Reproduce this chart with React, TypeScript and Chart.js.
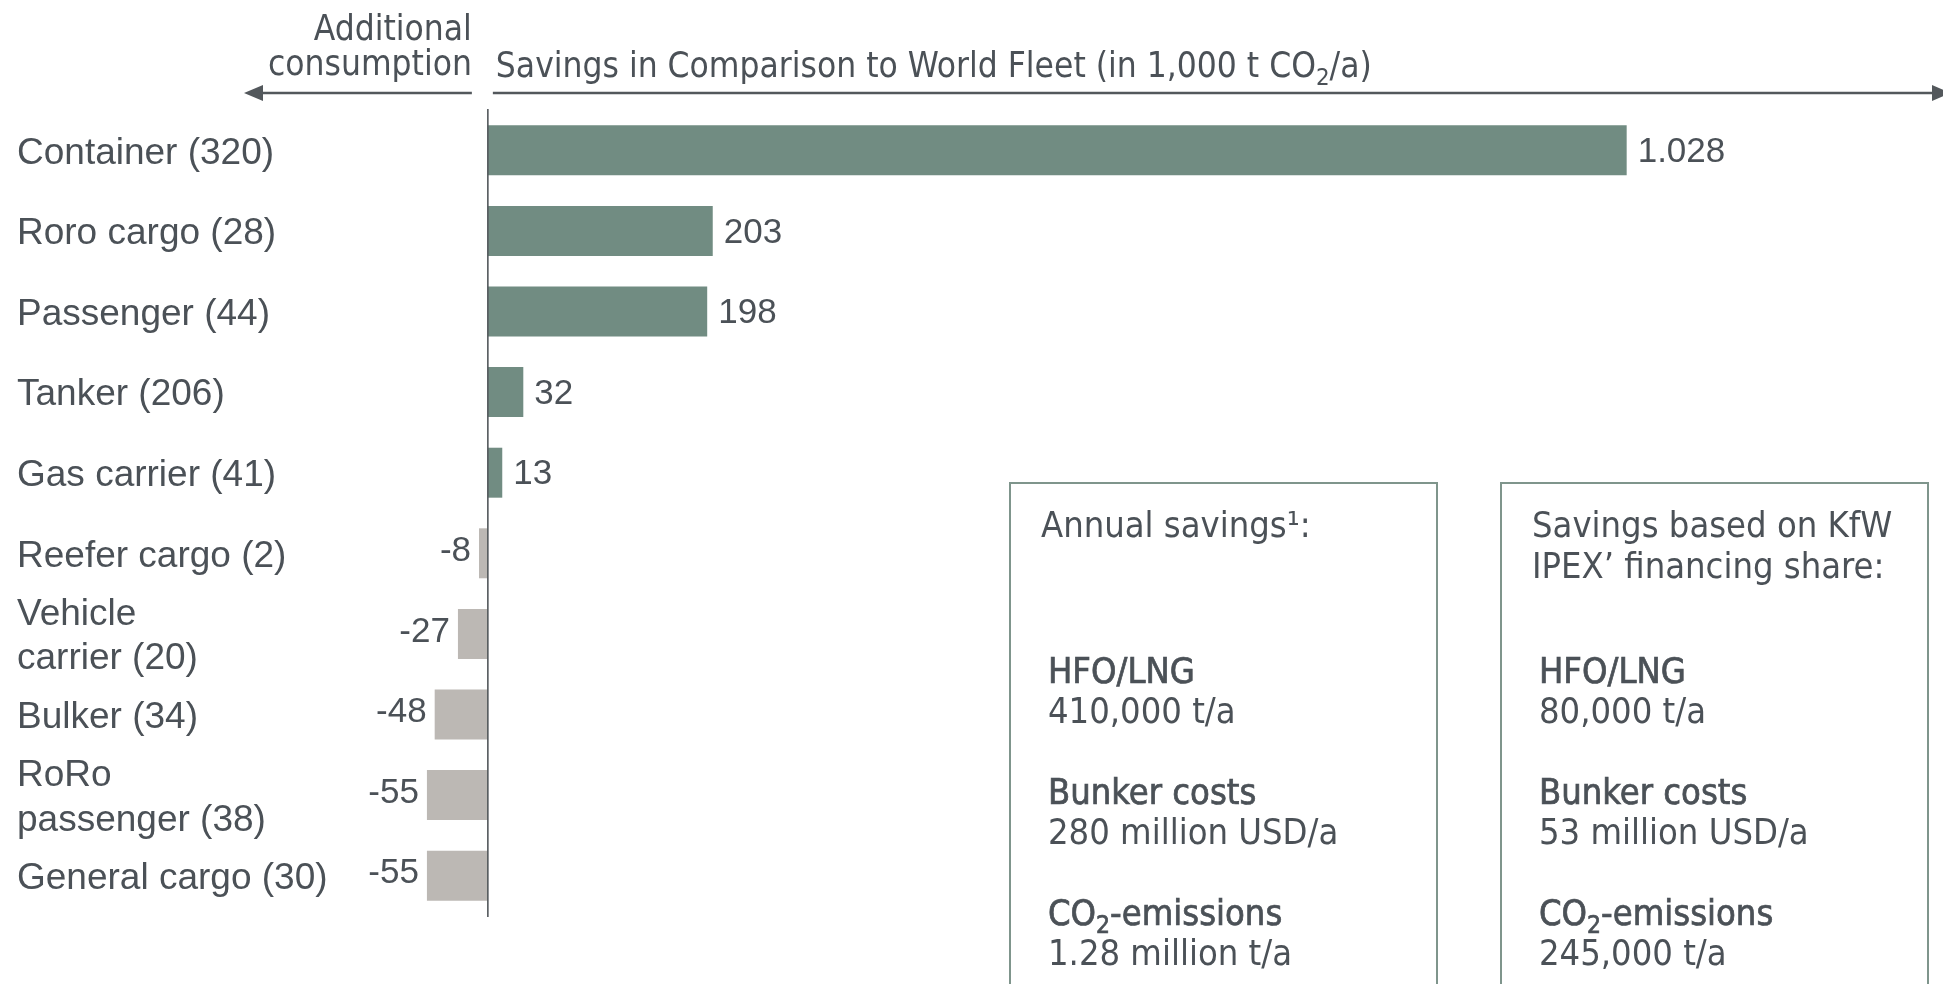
import React, { useEffect, useRef } from "react";
import { Chart, registerables } from "chart.js";

Chart.register(...registerables);

// Ship types (number of vessels) and CO2 savings vs. world fleet, in 1,000 t CO2/a
const categories: (string | string[])[] = [
  "Container (320)",
  "Roro cargo (28)",
  "Passenger (44)",
  "Tanker (206)",
  "Gas carrier (41)",
  "Reefer cargo (2)",
  ["Vehicle", "carrier (20)"],
  "Bulker (34)",
  ["RoRo", "passenger (38)"],
  "General cargo (30)",
];
const savings = [1028, 203, 198, 32, 13, -8, -27, -48, -55, -55];

const axisMin = -110;
const axisMax = 1300;

const headerLeft = ["Additional", "consumption"];
const headerRight = "Savings in Comparison to World Fleet (in 1,000 t CO2/a)";

const annualTitle = ["Annual savings¹:"];
const annualItems: [string, string][] = [
  ["HFO/LNG", "410,000 t/a"],
  ["Bunker costs", "280 million USD/a"],
  ["CO2-emissions", "1.28 million t/a"],
];
const shareTitle = ["Savings based on KfW", "IPEX’ financing share:"];
const shareItems: [string, string][] = [
  ["HFO/LNG", "80,000 t/a"],
  ["Bunker costs", "53 million USD/a"],
  ["CO2-emissions", "245,000 t/a"],
];

const GREEN = "#718c82";
const GREY = "#bcb8b4";
const TEXT = "#4b5157";
const AXIS = "#53585c";
const BOX = "#7f958c";
const SANS = "'Liberation Sans', Arial, sans-serif";
const NARROW = "'Liberation Sans Narrow', 'DejaVu Sans Condensed', 'Roboto Condensed', sans-serif";

const fmt = (v: number) => String(v).replace(/\B(?=(\d{3})+(?!\d))/g, ".");

// Draws text where "CO2" gets a lowered, smaller "2"
function drawSubText(
  ctx: CanvasRenderingContext2D,
  text: string,
  x: number,
  y: number,
  size: number,
  stroke = false
) {
  const parts = text.split("CO2");
  let cx = x;
  ctx.textAlign = "left";
  const put = (s: string, px: number, py: number, sz: number) => {
    ctx.font = `${sz}px ${NARROW}`;
    ctx.fillText(s, px, py);
    if (stroke) ctx.strokeText(s, px, py);
    return ctx.measureText(s).width;
  };
  parts.forEach((p, i) => {
    cx += put(p, cx, y, size);
    if (i < parts.length - 1) {
      cx += put("CO", cx, y, size);
      cx += put("2", cx, y + size * 0.3, size * 0.68);
    }
  });
}

const overlay = {
  id: "overlay",
  afterDatasetsDraw(chart: any) {
    const { ctx, chartArea, scales } = chart;
    const x0 = scales.x.getPixelForValue(0);
    ctx.save();

    // zero line
    ctx.strokeStyle = AXIS;
    ctx.lineWidth = 1.6;
    ctx.beginPath();
    ctx.moveTo(x0, chartArea.top - 1);
    ctx.lineTo(x0, chartArea.bottom + 1);
    ctx.stroke();

    // value labels
    const meta = chart.getDatasetMeta(0);
    ctx.font = `35px ${SANS}`;
    ctx.fillStyle = TEXT;
    ctx.textBaseline = "middle";
    meta.data.forEach((bar: any, i: number) => {
      const v = savings[i];
      const { x, y } = bar.getProps(["x", "y"], true);
      if (v >= 0) {
        ctx.textAlign = "left";
        ctx.fillText(fmt(v), x + 11, y + 2);
      } else {
        ctx.textAlign = "right";
        ctx.fillText(fmt(v), x - 8, y - 2);
      }
    });

    // header texts
    ctx.fillStyle = TEXT;
    ctx.font = `35px ${NARROW}`;
    ctx.textAlign = "right";
    ctx.fillText(headerLeft[0], x0 - 16, 31);
    ctx.fillText(headerLeft[1], x0 - 16, 66);
    drawSubText(ctx, headerRight, x0 + 8, 68, 35);

    // direction arrows
    const ay = 93;
    ctx.strokeStyle = AXIS;
    ctx.fillStyle = AXIS;
    ctx.lineWidth = 2.5;
    ctx.beginPath();
    ctx.moveTo(x0 - 16, ay);
    ctx.lineTo(258, ay);
    ctx.moveTo(x0 + 5, ay);
    ctx.lineTo(1935, ay);
    ctx.stroke();
    ctx.beginPath();
    ctx.moveTo(244, ay);
    ctx.lineTo(263, ay - 8);
    ctx.lineTo(263, ay + 8);
    ctx.closePath();
    ctx.fill();
    ctx.beginPath();
    ctx.moveTo(1951, ay);
    ctx.lineTo(1932, ay - 8);
    ctx.lineTo(1932, ay + 8);
    ctx.closePath();
    ctx.fill();

    // info boxes
    const drawBox = (
      left: number,
      right: number,
      title: string[],
      items: [string, string][]
    ) => {
      ctx.strokeStyle = BOX;
      ctx.lineWidth = 2;
      ctx.strokeRect(left, 483, right - left, 540);
      ctx.fillStyle = TEXT;
      ctx.strokeStyle = TEXT;
      ctx.textBaseline = "middle";
      title.forEach((t, i) => drawSubText(ctx, t, left + 31, 528 + i * 41, 36));
      items.forEach(([head, val], i) => {
        const y = 674 + i * 121;
        ctx.lineWidth = 0.7;
        drawSubText(ctx, head, left + 38, y, 36, true);
        drawSubText(ctx, val, left + 38, y + 40, 36);
      });
    };
    drawBox(1010, 1437, annualTitle, annualItems);
    drawBox(1501, 1928, shareTitle, shareItems);

    ctx.restore();
  },
};

export default function App() {
  const ref = useRef<HTMLCanvasElement | null>(null);

  useEffect(() => {
    if (!ref.current) return;
    const chart = new Chart(ref.current, {
      type: "bar",
      data: {
        labels: categories,
        datasets: [
          {
            data: savings,
            backgroundColor: savings.map((v) => (v >= 0 ? GREEN : GREY)),
            borderWidth: 0,
            barPercentage: 0.62,
            categoryPercentage: 1,
          },
        ],
      },
      options: {
        indexAxis: "y",
        responsive: false,
        animation: false,
        layout: { padding: { left: 17, top: 110, bottom: 68, right: 15 } },
        plugins: { legend: { display: false }, tooltip: { enabled: false } },
        scales: {
          x: { display: false, min: axisMin, max: axisMax },
          y: {
            position: "left",
            grid: { display: false },
            border: { display: false },
            ticks: {
              color: TEXT,
              font: { family: SANS, size: 37, lineHeight: 1.2 },
              crossAlign: "far",
              padding: 0,
              labelOffset: 3,
              autoSkip: false,
            },
            afterFit: (scale: any) => {
              scale.width = 349;
            },
          },
        },
      },
      plugins: [overlay],
    });
    return () => chart.destroy();
  }, []);

  return (
    <div style={{ position: "absolute", left: 0, top: 0, width: 1943, height: 984, background: "#fff" }}>
      <canvas ref={ref} width={1943} height={984} />
    </div>
  );
}
